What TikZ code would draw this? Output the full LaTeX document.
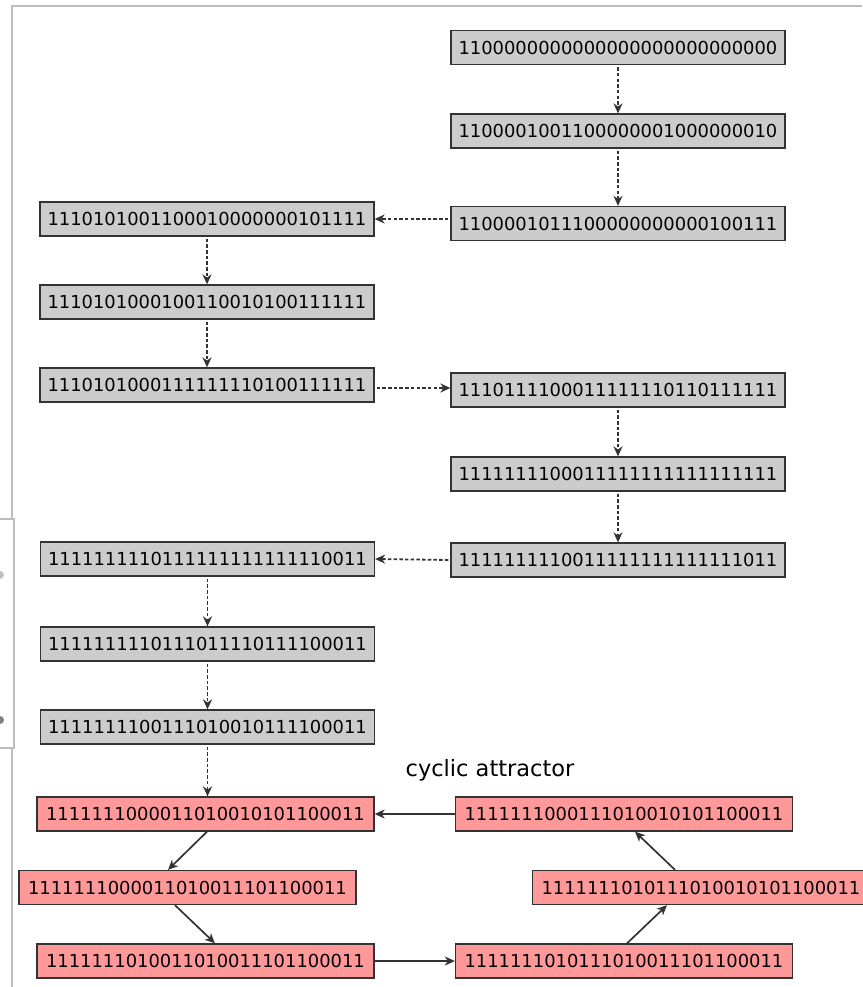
\documentclass[tikz,border=0pt]{standalone}
\usepackage{fontspec}
\setmainfont{DejaVu Sans}
\usetikzlibrary{arrows.meta,calc}

\definecolor{boxgray}{HTML}{CCCCCC}
\definecolor{boxred}{HTML}{FF9999}
\definecolor{edgeink}{HTML}{333333}
\definecolor{framegray}{HTML}{BDBDBD}

\tikzset{
  state/.style={rectangle, draw=edgeink, line width=1.3pt, inner sep=0pt,
    minimum width=334pt, minimum height=34pt, fill=boxgray, text=black,
    font=\fontsize{17.9}{20}\selectfont},
  cyclestate/.style={state, fill=boxred, minimum width=337pt},
  transient/.style={draw=edgeink, line width=1.8pt, dash pattern=on 3.5pt off 2.2pt,
    -{Stealth[length=10pt,width=9pt]}, shorten <=2pt},
  cycleedge/.style={draw=edgeink, line width=1.7pt,
    -{Stealth[length=10pt,width=9pt,inset=3pt]}},
  frameline/.style={draw=framegray, line width=2pt}
}

\begin{document}
\begin{tikzpicture}[x=1pt,y=-1pt]
  \useasboundingbox (0,0) rectangle (862,987);

  % window frame around the drawing area
  \draw[frameline] (11,6) -- (862,6);
  \draw[frameline] (12,6) -- (12,519);
  \draw[frameline] (12,748) -- (12,987);
  \draw[draw=framegray, line width=1.5pt] (-2,519) rectangle (14,748);
  \fill[black!25] (0,575) circle (4);
  \fill[black!50] (0,720) circle (4);

  % transient states
  \node[state] (R1) at (618,47.5) {1100000000000000000000000000};
  \node[state] (R2) at (618,131)  {1100001001100000001000000010};
  \node[state] (R3) at (618,223.5){1100001011100000000000100111};
  \node[state] (L1) at (207,219)  {1110101001100010000000101111};
  \node[state] (L2) at (207,302)  {1110101000100110010100111111};
  \node[state] (L3) at (207,385)  {1110101000111111110100111111};
  \node[state] (R4) at (618,390)  {1110111100011111110110111111};
  \node[state] (R5) at (618,474)  {1111111100011111111111111111};
  \node[state] (R6) at (618,560)  {1111111110011111111111111011};
  \node[state] (L4) at (207.5,559){1111111110111111111111110011};
  \node[state] (L5) at (207.5,644){1111111110111011110111100011};
  \node[state] (L6) at (207.5,727){1111111100111010010111100011};

  % states of the cycle
  \node[cyclestate] (C1) at (205.5,814)  {1111111000011010010101100011};
  \node[cyclestate] (C2) at (187.5,887.5){1111111000011010011101100011};
  \node[cyclestate] (C3) at (205.5,961)  {1111111010011010011101100011};
  \node[cyclestate] (C4) at (624,961)    {1111111010111010011101100011};
  \node[cyclestate] (C5) at (701,887.5)  {1111111010111010010101100011};
  \node[cyclestate] (C6) at (624,814)    {1111111000111010010101100011};

  \node[font=\fontsize{22.5}{26}\selectfont, text=black] (lbl) at (490,770) {cyclic attractor};

  % transient trajectory
  \draw[transient] (R1) -- (R2);
  \draw[transient] (R2) -- (R3);
  \draw[transient] (R3.west |- L1.east) -- (L1.east);
  \draw[transient] (L1) -- (L2);
  \draw[transient] (L2) -- (L3);
  \draw[transient] ([yshift=-3pt]L3.east) -- ([yshift=2pt]R4.west);
  \draw[transient] (R4) -- (R5);
  \draw[transient] (R5) -- (R6);
  \draw[transient] (R6.west) -- (L4.east);
  \draw[transient] (L4) -- (L5);
  \draw[transient] (L5) -- (L6);
  \draw[transient] (L6.south) -- (L6.south |- C1.north);

  % the cycle
  \draw[cycleedge] (C6.west) -- (C1.east);
  \draw[cycleedge] ([xshift=1.5pt]C1.south) -- ([xshift=-19.5pt]C2.north);
  \draw[cycleedge] ([xshift=-12.5pt]C2.south) -- ([xshift=9.5pt]C3.north);
  \draw[cycleedge] (C3.east) -- (C4.west);
  \draw[cycleedge] ([xshift=3pt]C4.north) -- ([xshift=-34pt]C5.south);
  \draw[cycleedge] ([xshift=-26pt]C5.north) -- ([xshift=11pt]C6.south);
\end{tikzpicture}
\end{document}
